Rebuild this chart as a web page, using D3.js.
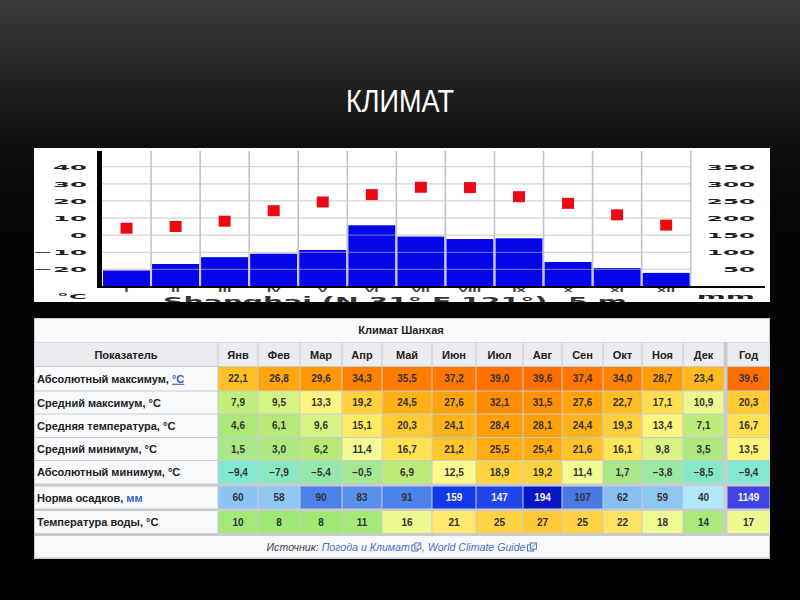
<!DOCTYPE html>
<html><head><meta charset="utf-8">
<script src="https://cdn.jsdelivr.net/npm/d3@7"></script>
<style>html,body{margin:0;padding:0;background:#000;} svg{display:block;}</style>
</head><body><svg id="c" width="800" height="600"></svg>
<script>
// ---------- data: climate diagram ----------
const months = ["I","II","III","IV","V","VI","VII","VIII","IX","X","XI","XII"];
const chartTemp = [4.1, 5.1, 8.2, 14.3, 19.4, 23.7, 28.0, 27.8, 22.5, 18.6, 11.9, 5.9];
const chartPrecip = [47, 66, 86, 96, 107, 179, 146, 139, 141, 72, 54, 40];
const tempTicks = [40, 30, 20, 10, 0, -10, -20];
const precipTicks = [350, 300, 250, 200, 150, 100, 50];
const chartCaption = "Shanghai (N 31° E 121°), 5 m";

// ---------- data: table ----------
const tableTitle = "Климат Шанхая";
const tableMonths = ["Янв","Фев","Мар","Апр","Май","Июн","Июл","Авг","Сен","Окт","Ноя","Дек"];
const absMax  = [22.1, 26.8, 29.6, 34.3, 35.5, 37.2, 39.0, 39.6, 37.4, 34.0, 28.7, 23.4];
const avgMax  = [7.9, 9.5, 13.3, 19.2, 24.5, 27.6, 32.1, 31.5, 27.6, 22.7, 17.1, 10.9];
const avgTemp = [4.6, 6.1, 9.6, 15.1, 20.3, 24.1, 28.4, 28.1, 24.4, 19.3, 13.4, 7.1];
const avgMin  = [1.5, 3.0, 6.2, 11.4, 16.7, 21.2, 25.5, 25.4, 21.6, 16.1, 9.8, 3.5];
const absMin  = [-9.4, -7.9, -5.4, -0.5, 6.9, 12.5, 18.9, 19.2, 11.4, 1.7, -3.8, -8.5];
const precip  = [60, 58, 90, 83, 91, 159, 147, 194, 107, 62, 59, 40];
const water   = [10, 8, 8, 11, 16, 21, 25, 27, 25, 22, 18, 14];
const yearValues = [39.6, 20.3, 16.7, 13.5, -9.4, 1149, 17];
const rowLabels = ["Абсолютный максимум, ","Средний максимум, °C","Средняя температура, °C","Средний минимум, °C","Абсолютный минимум, °C","Норма осадков, ","Температура воды, °C"];
const rowLinks = ["°C","","","","","мм",""];

// ---------- layout / style constants ----------
const svg = d3.select("#c");
const defs = svg.append("defs");
const bg = defs.append("linearGradient").attr("id","bg").attr("x1",0).attr("y1",0).attr("x2",0).attr("y2",1);
bg.selectAll("stop").data([[0,"#3b3b3b"],[0.12,"#242424"],[0.24,"#0f0f0f"],[0.4,"#050505"],[1,"#000"]])
  .join("stop").attr("offset",d=>d[0]).attr("stop-color",d=>d[1]);
svg.append("rect").attr("width",800).attr("height",600).attr("fill","url(#bg)");

svg.append("text").attr("x",400).attr("y",111.5).attr("text-anchor","middle")
  .attr("font-family","'Liberation Sans', Arial, sans-serif").attr("font-size",32)
  .attr("fill","#fff").attr("textLength",108).attr("lengthAdjust","spacingAndGlyphs").text("КЛИМАТ");

// ---------- climate diagram ----------
const box = {x:34, y:148, w:736, h:154};
defs.append("clipPath").attr("id","boxclip").append("rect")
  .attr("x",box.x).attr("y",box.y).attr("width",box.w).attr("height",box.h);
svg.append("rect").attr("x",box.x).attr("y",box.y).attr("width",box.w).attr("height",box.h).attr("fill","#fff");

const plotL = 102, plotR = 690.7, plotT = 151, plotB = 286.6;
const x = d3.scaleBand().domain(months).range([plotL, plotR]).padding(0);
const yT = d3.scaleLinear().domain([-30, 40]).range([plotB, 166.7]);
const yP = d3.scaleLinear().domain([0, 350]).range([plotB, 166.7]);
const bw = x.bandwidth();

const chart = svg.append("g");
chart.selectAll("rect.bar").data(chartPrecip).join("rect").attr("class","bar")
  .attr("x",(d,i)=>x(months[i])+1).attr("width",bw-2)
  .attr("y",d=>yP(d)).attr("height",d=>yP(0)-yP(d)).attr("fill","#0606ea");

chart.selectAll("line.h").data(tempTicks).join("line").attr("class","h")
  .attr("x1",plotL).attr("x2",plotR).attr("y1",d=>yT(d)).attr("y2",d=>yT(d))
  .attr("stroke","#b0b0b0").attr("stroke-opacity",0.55).attr("stroke-width",1.2);

chart.selectAll("line.v").data(months).join("line").attr("class","v")
  .attr("x1",d=>x(d)+bw).attr("x2",d=>x(d)+bw).attr("y1",plotT).attr("y2",plotB)
  .attr("stroke","#c4c4c8").attr("stroke-width",1.6);

const sq = 12;
chart.selectAll("rect.t").data(chartTemp).join("rect").attr("class","t")
  .attr("x",(d,i)=>x(months[i])+bw/2-sq/2).attr("width",sq)
  .attr("y",d=>yT(d)-5.5).attr("height",11).attr("fill","#ec0a14");

chart.append("rect").attr("x",97).attr("y",plotT).attr("width",5).attr("height",plotB-plotT+1).attr("fill","#000");
chart.append("line").attr("x1",97).attr("x2",765).attr("y1",plotB+0.5).attr("y2",plotB+0.5).attr("stroke","#000").attr("stroke-width",2);

function styleStretch(g, size, sx, fill){
  g.select(".domain").remove();
  g.selectAll("text").attr("font-family","'DejaVu Sans', sans-serif").attr("font-weight","bold")
    .attr("font-size",size).attr("fill",fill).attr("transform",`scale(${sx},1)`);
}
const gL = svg.append("g").attr("transform","translate(87,0)")
  .call(d3.axisLeft(yT).tickValues(tempTicks).tickSize(0).tickPadding(0));
styleStretch(gL, 7, 3.5, "#222");
gL.selectAll("text").attr("dy","0.36em");
const gR = svg.append("g").attr("transform","translate(755,0)")
  .call(d3.axisLeft(yP).tickValues(precipTicks).tickSize(0).tickPadding(0));
styleStretch(gR, 7, 3.3, "#222");
gR.selectAll("text").attr("dy","0.36em");
const gB = svg.append("g").attr("transform",`translate(0,${plotB+1.5})`)
  .call(d3.axisBottom(x).tickSize(0).tickPadding(0));
styleStretch(gB, 5, 2.4, "#444");
gB.selectAll("text").attr("dy","0.72em");

function stretchLabel(tx, ty, txt, sx){
  svg.append("text").attr("transform",`translate(${tx},${ty}) scale(${sx},1)`).attr("text-anchor","end")
    .attr("font-family","'DejaVu Sans', sans-serif").attr("font-weight","bold").attr("font-size",7)
    .attr("fill","#222").text(txt);
}
stretchLabel(87, 298.5, "°C", 3.5);
stretchLabel(755, 298.5, "mm", 4.0);
svg.append("text").attr("x",163).attr("y",305.5).attr("clip-path","url(#boxclip)")
  .attr("font-family","'DejaVu Sans', sans-serif").attr("font-weight","bold").attr("font-size",12)
  .attr("fill","#333").attr("textLength",464).attr("lengthAdjust","spacingAndGlyphs").text(chartCaption);

// ---------- table ----------
const fontT = "'Liberation Sans', Arial, sans-serif";
const colEdges = [218,258,300,342,382,432,476,523,562,603,642,683,724];
const yearCol = [727,770];
const labelCol = [34,218];
const rowSpans = [[367,390.5],[391.5,413.5],[414.5,437],[438,460],[461,483.5],[486.5,508.5],[511,533]];
const tbl = {x0:34, x1:770, y0:318, y1:559};

const tempColor = d3.scaleLinear()
  .domain([-10,-5,0,5,8,10,12,15,20,25,30,35,40])
  .range(["#7fe8d4","#96e8a8","#a8e890","#b0e676","#c4ee7c","#dcf488","#fcfc96","#ffec62","#ffcc34","#ffae14","#ff9604","#ff7e00","#ff6e00"]);
const precipColor = d3.scaleLinear().domain([40,60,90,110,150,160,200])
  .range(["#b0e8fa","#8cc4f2","#4c80ea","#4a78e2","#1c42ea","#1038e8","#0810c0"]);
const annualPrecipColor = d3.scaleLinear().domain([600,1200]).range(["#8cc4f2","#3838e0"]);
const waterColor = d3.scaleLinear().domain([8,14,16,18,21,25,27])
  .range(["#a0e874","#ace87c","#ecf890","#f0fa92","#ffe86c","#ffd244","#ffc834"]);

const rows = [
  {vals:absMax, kind:"t", dec:1}, {vals:avgMax, kind:"t", dec:1}, {vals:avgTemp, kind:"t", dec:1},
  {vals:avgMin, kind:"t", dec:1}, {vals:absMin, kind:"t", dec:1}, {vals:precip, kind:"p", dec:0},
  {vals:water, kind:"w", dec:0}
];
const fmt = (v,dec)=> (v<0?"−":"") + Math.abs(v).toFixed(dec).replace(".",",");

const T = svg.append("g");
T.append("rect").attr("x",tbl.x0).attr("y",tbl.y0).attr("width",tbl.x1-tbl.x0).attr("height",tbl.y1-tbl.y0).attr("fill","#c8ccd1");
T.append("rect").attr("x",tbl.x0+1).attr("y",tbl.y0+1).attr("width",tbl.x1-tbl.x0-2).attr("height",23).attr("fill","#f8f9fa");
T.append("text").attr("x",401).attr("y",334).attr("text-anchor","middle").attr("font-family",fontT)
  .attr("font-weight","bold").attr("font-size",11).attr("fill","#202122").text(tableTitle);

// header
const headY = [342.5, 366];
const allCols = [labelCol].concat(tableMonths.map((m,i)=>[colEdges[i],colEdges[i+1]])).concat([yearCol]);
const headTexts = ["Показатель"].concat(tableMonths).concat(["Год"]);
T.selectAll("rect.hd").data(allCols).join("rect").attr("class","hd")
  .attr("x",d=>d[0]+0.5).attr("width",d=>d[1]-d[0]-1).attr("y",headY[0]).attr("height",headY[1]-headY[0])
  .attr("fill","#eaecf0");
T.selectAll("text.hd").data(allCols).join("text").attr("class","hd")
  .attr("x",d=>(d[0]+d[1])/2).attr("y",358.5).attr("text-anchor","middle")
  .attr("font-family",fontT).attr("font-weight","bold").attr("font-size",11).attr("fill","#202122")
  .text((d,i)=>headTexts[i]);

// body
rows.forEach((r,ri)=>{
  const [ya,yb] = rowSpans[ri];
  const cy = (ya+yb)/2;
  const g = T.append("g");
  g.append("rect").attr("x",labelCol[0]+1).attr("width",labelCol[1]-labelCol[0]-1.5).attr("y",ya).attr("height",yb-ya).attr("fill","#f8f9fa");
  const lt = g.append("text").attr("x",37).attr("y",cy+4).attr("font-family",fontT).attr("font-weight","bold")
    .attr("font-size",11).attr("fill","#202122");
  lt.append("tspan").text(rowLabels[ri]);
  if(rowLinks[ri]) lt.append("tspan").attr("fill","#3a5ccc").attr("text-decoration", ri===0?"underline":"none").text(rowLinks[ri]);
  const vals = r.vals.concat([yearValues[ri]]);
  const cols = tableMonths.map((m,i)=>[colEdges[i],colEdges[i+1]]).concat([yearCol]);
  const colorOf = (v,i)=>{
    if(r.kind==="t") return tempColor(v);
    if(r.kind==="w") return waterColor(v);
    return i===12 ? annualPrecipColor(v) : precipColor(v);
  };
  const dark = (v,i)=> r.kind==="p" && (i===12 || v>=140);
  g.selectAll("rect.c").data(vals).join("rect").attr("class","c")
    .attr("x",(d,i)=>cols[i][0]+0.5).attr("width",(d,i)=>cols[i][1]-cols[i][0]-1)
    .attr("y",ya).attr("height",yb-ya).attr("fill",(d,i)=>colorOf(d,i));
  g.selectAll("text.c").data(vals).join("text").attr("class","c")
    .attr("x",(d,i)=>(cols[i][0]+cols[i][1])/2).attr("y",cy+3.6).attr("text-anchor","middle")
    .attr("font-family",fontT).attr("font-weight","bold").attr("font-size",10)
    .attr("fill",(d,i)=>dark(d,i)?"#f4f4ff":"#333").text(d=>fmt(d,r.dec));
});

// source row
T.append("rect").attr("x",tbl.x0+1).attr("y",536).attr("width",tbl.x1-tbl.x0-2).attr("height",21.5).attr("fill","#f8f9fa");
const srcParts = [["Источник: ","#444"],["Погода и Климат","#4a6fd0"],["ICON"],[", ","#4a6fd0"],["World Climate Guide","#4a6fd0"],["ICON"]];
const srcG = T.append("g");
let cx = 0;
const placed = [];
srcParts.forEach(p=>{
  if(p[0]==="ICON"){ placed.push({icon:true,x:cx+2}); cx += 12; return; }
  const t = srcG.append("text").attr("x",cx).attr("y",550.5).attr("font-family",fontT).attr("font-style","italic")
    .attr("font-size",10.6).attr("fill",p[1]).style("white-space","pre").text(p[0]);
  const w = t.node().getComputedTextLength();
  placed.push({node:t,x:cx}); cx += w;
});
const off = 402 - cx/2;
srcG.attr("transform",`translate(${off},0)`);
placed.filter(p=>p.icon).forEach(p=>{
  const ix = p.x, iy = 543;
  srcG.append("rect").attr("x",ix).attr("y",iy+2).attr("width",6).attr("height",6).attr("fill","none").attr("stroke","#4a6fd0").attr("stroke-width",1);
  srcG.append("rect").attr("x",ix+3).attr("y",iy).attr("width",6).attr("height",6).attr("fill","#fff").attr("stroke","#4a6fd0").attr("stroke-width",1);
  srcG.append("path").attr("d",`M${ix+4.5},${iy+4.5} L${ix+8},${iy+1}`).attr("stroke","#4a6fd0").attr("stroke-width",1);
});
</script></body></html>
